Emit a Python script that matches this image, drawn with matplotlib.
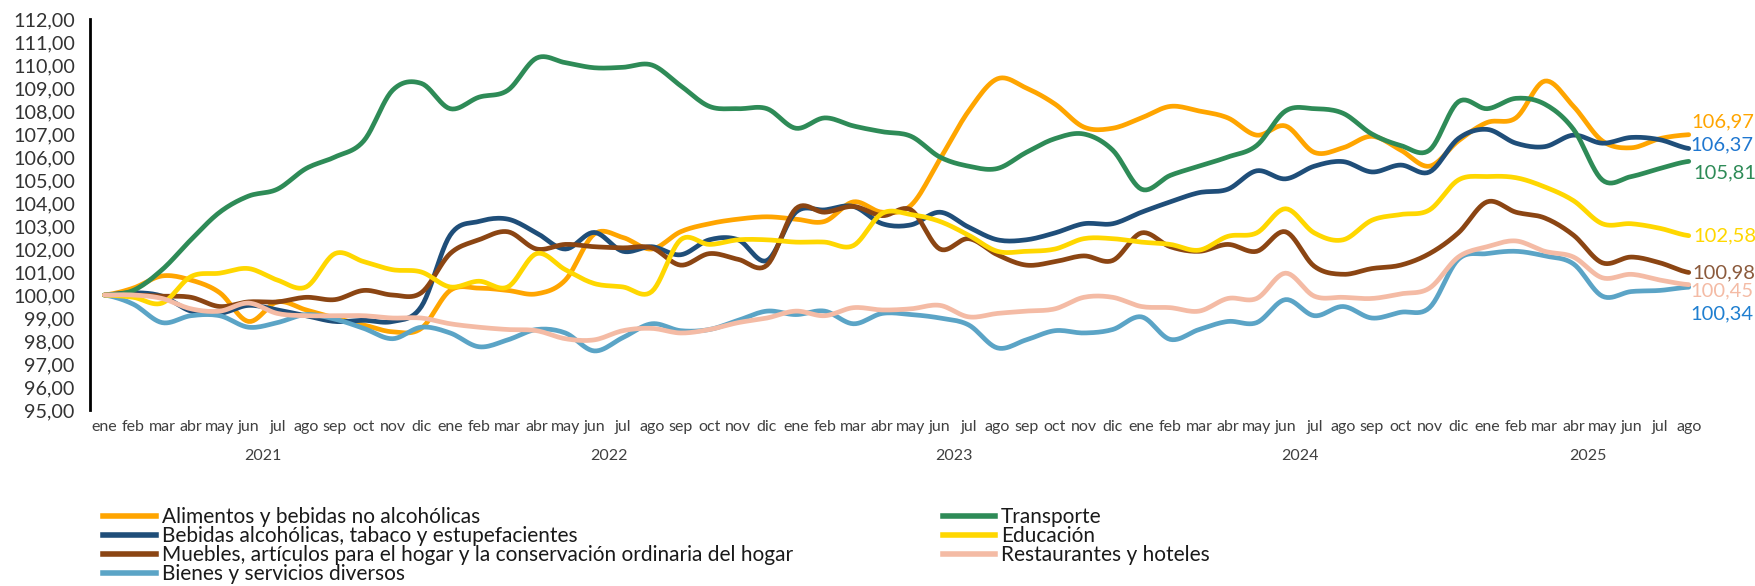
import numpy as np
import matplotlib
matplotlib.use('Agg')
import matplotlib.pyplot as plt
from matplotlib.lines import Line2D
from matplotlib.ticker import FuncFormatter
from matplotlib.transforms import blended_transform_factory

months = ['ene', 'feb', 'mar', 'abr', 'may', 'jun', 'jul', 'ago', 'sep', 'oct', 'nov', 'dic'] * 4 + \
         ['ene', 'feb', 'mar', 'abr', 'may', 'jun', 'jul', 'ago']
years = ['2021', '2022', '2023', '2024', '2025']
year_pos = [5.5, 17.5, 29.5, 41.5, 51.5]

alimentos = [100.0, 100.3, 100.83, 100.65, 100.1, 98.85, 99.7, 99.35, 99.0, 98.7, 98.4, 98.55,
             100.2, 100.3, 100.2, 100.05, 100.65, 102.65, 102.5, 102.0, 102.75, 103.1, 103.3, 103.4,
             103.3, 103.2, 104.05, 103.6, 103.9, 105.9, 108.0, 109.4, 109.0, 108.3, 107.3, 107.25,
             107.7, 108.2, 108.0, 107.7, 106.95, 107.35, 106.2, 106.4, 106.9, 106.3, 105.6, 106.7,
             107.5, 107.7, 109.3, 108.2, 106.7, 106.4, 106.8, 106.97]
transporte = [100.0, 100.2, 101.1, 102.4, 103.6, 104.3, 104.6, 105.5, 106.0, 106.7, 108.9, 109.2,
              108.1, 108.6, 108.9, 110.3, 110.1, 109.88, 109.9, 110.0, 109.1, 108.2, 108.1, 108.1,
              107.25, 107.7, 107.35, 107.1, 106.9, 106.0, 105.6, 105.5, 106.2, 106.8, 107.0, 106.3,
              104.6, 105.2, 105.6, 106.0, 106.5, 108.0, 108.1, 107.9, 107.0, 106.5, 106.3, 108.4,
              108.1, 108.55, 108.3, 107.2, 105.0, 105.15, 105.5, 105.81]
bebidas = [100.0, 100.1, 99.95, 99.3, 99.2, 99.55, 99.35, 99.1, 98.85, 98.9, 98.85, 99.5,
           102.6, 103.2, 103.3, 102.7, 102.0, 102.72, 101.9, 102.1, 101.75, 102.4, 102.4, 101.5,
           103.6, 103.7, 103.85, 103.1, 103.05, 103.6, 102.95, 102.4, 102.4, 102.7, 103.1, 103.1,
           103.6, 104.05, 104.45, 104.6, 105.4, 105.05, 105.6, 105.8, 105.35, 105.65, 105.35, 106.8,
           107.2, 106.6, 106.45, 106.95, 106.6, 106.85, 106.75, 106.37]
educacion = [100.0, 99.9, 99.65, 100.8, 100.95, 101.15, 100.65, 100.35, 101.8, 101.45, 101.1, 101.0,
             100.35, 100.6, 100.35, 101.8, 101.1, 100.5, 100.35, 100.15, 102.4, 102.2, 102.4, 102.4,
             102.3, 102.3, 102.15, 103.55, 103.5, 103.2, 102.6, 101.9, 101.9, 102.0, 102.45, 102.45,
             102.3, 102.2, 101.95, 102.55, 102.7, 103.75, 102.7, 102.4, 103.25, 103.5, 103.7, 105.0,
             105.15, 105.1, 104.7, 104.1, 103.1, 103.1, 102.9, 102.58]
muebles = [100.0, 100.0, 99.95, 99.9, 99.5, 99.7, 99.7, 99.9, 99.8, 100.2, 100.0, 100.1,
           101.8, 102.4, 102.75, 102.0, 102.2, 102.1, 102.05, 102.05, 101.3, 101.8, 101.55, 101.3,
           103.75, 103.6, 103.85, 103.45, 103.7, 102.0, 102.45, 101.75, 101.3, 101.45, 101.7, 101.5,
           102.7, 102.1, 101.9, 102.2, 101.9, 102.75, 101.25, 100.9, 101.15, 101.3, 101.8, 102.7,
           104.05, 103.6, 103.35, 102.6, 101.4, 101.65, 101.4, 100.98]
restaurantes = [100.0, 100.0, 99.85, 99.4, 99.3, 99.65, 99.2, 99.1, 99.1, 99.1, 99.0, 99.0,
                98.75, 98.6, 98.5, 98.45, 98.1, 98.05, 98.45, 98.55, 98.35, 98.5, 98.8, 99.0,
                99.3, 99.1, 99.45, 99.35, 99.4, 99.55, 99.05, 99.2, 99.3, 99.4, 99.9, 99.9,
                99.5, 99.45, 99.3, 99.85, 99.85, 100.95, 99.95, 99.9, 99.85, 100.05, 100.3, 101.65,
                102.1, 102.35, 101.9, 101.65, 100.75, 100.9, 100.65, 100.45]
bienes = [100.0, 99.6, 98.8, 99.1, 99.1, 98.6, 98.8, 99.15, 98.95, 98.55, 98.1, 98.6,
          98.35, 97.75, 98.05, 98.5, 98.35, 97.57, 98.15, 98.75, 98.45, 98.5, 98.9, 99.3,
          99.15, 99.3, 98.75, 99.2, 99.15, 99.0, 98.7, 97.7, 98.05, 98.45, 98.35, 98.5,
          99.05, 98.07, 98.5, 98.85, 98.8, 99.8, 99.1, 99.5, 99.0, 99.25, 99.45, 101.55,
          101.8, 101.9, 101.7, 101.35, 99.95, 100.15, 100.2, 100.34]

series = [
    ('Alimentos y bebidas no alcohólicas', alimentos, '#FFA500'),
    ('Bebidas alcohólicas, tabaco y estupefacientes', bebidas, '#1F4E79'),
    ('Muebles, artículos para el hogar y la conservación ordinaria del hogar', muebles, '#8B4513'),
    ('Bienes y servicios diversos', bienes, '#5BA4C6'),
    ('Transporte', transporte, '#2E8B57'),
    ('Educación', educacion, '#FFD700'),
    ('Restaurantes y hoteles', restaurantes, '#F4BBA5'),
]
# end labels: text color, offset in px
end_labels = {
    'Alimentos y bebidas no alcohólicas': ('#FFA500', 3, 13),
    'Bebidas alcohólicas, tabaco y estupefacientes': ('#1F77D0', 2, 4),
    'Transporte': ('#2E8B57', 5, -12),
    'Educación': ('#FFD700', 5, 0),
    'Muebles, artículos para el hogar y la conservación ordinaria del hogar': ('#8B5A3C', 4, 0),
    'Restaurantes y hoteles': ('#F4BBA5', 2, -6),
    'Bienes y servicios diversos': ('#1F7FD0', 2, -27),
}


def smooth(y, n=12):
    # catmull-rom curve through the monthly points
    y = np.asarray(y, float)
    p = np.concatenate([[y[0]], y, [y[-1]]])
    xs, ys = [], []
    t = np.linspace(0, 1, n, endpoint=False)
    for i in range(1, len(p) - 2):
        p0, p1, p2, p3 = p[i - 1], p[i], p[i + 1], p[i + 2]
        seg = 0.5 * (2 * p1 + (-p0 + p2) * t + (2 * p0 - 5 * p1 + 4 * p2 - p3) * t ** 2
                     + (-p0 + 3 * p1 - 3 * p2 + p3) * t ** 3)
        xs.append(i - 1 + t)
        ys.append(seg)
    xs.append([len(y) - 1])
    ys.append([y[-1]])
    return np.concatenate(xs), np.concatenate(ys)


plt.rcParams['font.family'] = ['Lato', 'DejaVu Sans']
fig = plt.figure(figsize=(17.56, 5.86), dpi=100)
ax = fig.add_axes([0.0513, 0.3003, 0.9186, 0.6673])

x = np.arange(len(months))
for name, vals, color in series:
    sx, sy = smooth(vals)
    ax.plot(sx, sy, color=color, lw=3.4, solid_capstyle='round')
    c, dx, dy = end_labels[name]
    ax.annotate(f'{vals[-1]:.2f}'.replace('.', ','), (x[-1], vals[-1]),
                xytext=(dx * 0.72, dy * 0.72), textcoords='offset points',
                ha='left', va='center', color=c, fontsize=14.5)

ax.set_xlim(-0.5, 55.5)
ax.set_ylim(95, 112)
ax.set_yticks(np.arange(95, 113, 1))
ax.yaxis.set_major_formatter(FuncFormatter(lambda v, p: f'{v:.2f}'.replace('.', ',')))
ax.set_xticks(x)
ax.set_xticklabels(months)
ax.tick_params(axis='x', length=0, pad=7, labelsize=11.5, labelcolor='#404040')
ax.tick_params(axis='y', length=0, pad=11, labelsize=14.2, labelcolor='#333333')
for s in ['top', 'right', 'bottom']:
    ax.spines[s].set_visible(False)
ax.spines['left'].set_linewidth(2)
ax.spines['left'].set_color('black')

trans = blended_transform_factory(ax.transData, ax.transAxes)
for yr, pos in zip(years, year_pos):
    ax.text(pos, -0.118, yr, transform=trans, ha='center', va='center',
            fontsize=11.5, color='#404040')

handles = [Line2D([], [], color=c, lw=4) for _, _, c in series]
names = [n for n, _, _ in series]
leg_kw = dict(loc='upper left', frameon=False, fontsize=15, handlelength=2.5,
              handletextpad=0.3, labelspacing=-0.05, borderpad=0)
leg1 = fig.legend(handles[:4], names[:4], bbox_to_anchor=(0.053, 0.152), **leg_kw)
leg2 = fig.legend(handles[4:], names[4:], bbox_to_anchor=(0.531, 0.152), **leg_kw)
for leg in (leg1, leg2):
    for t in leg.get_texts():
        t.set_color('#1a1a1a')

fig.savefig('out.png', dpi=100)
